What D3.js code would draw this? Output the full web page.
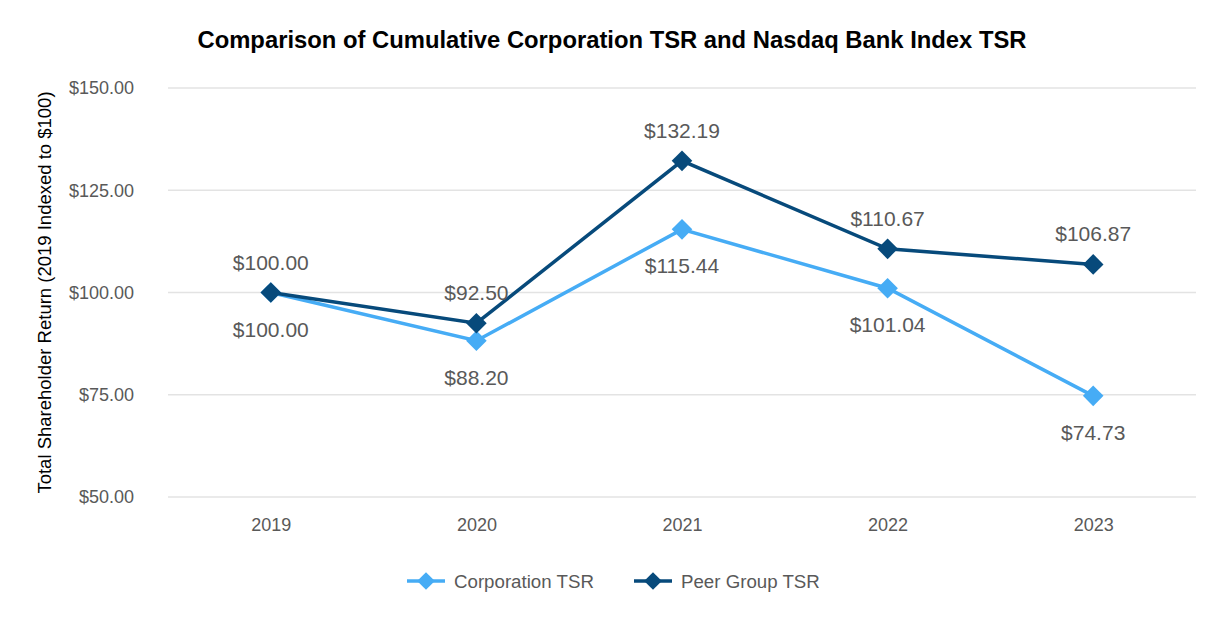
<!DOCTYPE html>
<html>
<head>
<meta charset="utf-8">
<script src="https://cdn.jsdelivr.net/npm/d3@7"></script>
<style>
	body { margin: 0; background: #fff; font-family: 'Liberation Sans', Arial, sans-serif; }
</style>
</head>
<body>
<div id="chart"></div>
<script>
// chart data
const years = ['2019', '2020', '2021', '2022', '2023'];
const corporationTsr = [100.00, 88.20, 115.44, 101.04, 74.73];
const peerGroupTsr = [100.00, 92.50, 132.19, 110.67, 106.87];
const yTicks = [50, 75, 100, 125, 150];

const width = 1226;
const height = 632;
const margin = { top: 88, right: 30, bottom: 135, left: 168 };

const series = [
	{ name: 'Corporation TSR', values: corporationTsr, color: '#46acf5', labelDy: 44 },
	{ name: 'Peer Group TSR', values: peerGroupTsr, color: '#074a7b', labelDy: -23 }
];

const svg = d3.select('#chart')
	.append('svg')
	.attr('width', width)
	.attr('height', height);

const x = d3.scalePoint()
	.domain(years)
	.range([margin.left, width - margin.right])
	.padding(0.5);

const y = d3.scaleLinear()
	.domain([50, 150])
	.range([height - margin.bottom, margin.top]);

// title
svg.append('text')
	.attr('x', 612)
	.attr('y', 48)
	.attr('text-anchor', 'middle')
	.attr('font-size', 23.8)
	.attr('font-weight', 'bold')
	.attr('fill', '#000')
	.text('Comparison of Cumulative Corporation TSR and Nasdaq Bank Index TSR');

// gridlines
svg.append('g')
	.selectAll('line')
	.data(yTicks)
	.enter()
	.append('line')
	.attr('x1', margin.left)
	.attr('x2', width - margin.right)
	.attr('y1', d => y(d))
	.attr('y2', d => y(d))
	.attr('stroke', '#e3e3e3')
	.attr('stroke-width', 1.5);

// y axis
const yAxis = svg.append('g')
	.attr('transform', `translate(${margin.left - 31},0)`)
	.call(d3.axisLeft(y).tickValues(yTicks).tickSize(0).tickFormat(d => '$' + d3.format('.2f')(d)));
yAxis.select('.domain').remove();
yAxis.selectAll('text')
	.attr('font-family', "'Liberation Sans', Arial, sans-serif")
	.attr('font-size', 18)
	.attr('fill', '#595959');

// x axis
const xAxis = svg.append('g')
	.attr('transform', `translate(0,${height - margin.bottom + 18})`)
	.call(d3.axisBottom(x).tickSize(0));
xAxis.select('.domain').remove();
xAxis.selectAll('text')
	.attr('font-family', "'Liberation Sans', Arial, sans-serif")
	.attr('font-size', 18)
	.attr('fill', '#595959');

// y axis title
svg.append('text')
	.attr('transform', `translate(51,${(margin.top + height - margin.bottom) / 2}) rotate(-90)`)
	.attr('text-anchor', 'middle')
	.attr('font-size', 18.5)
	.attr('fill', '#000')
	.text('Total Shareholder Return (2019 Indexed to $100)');

const diamond = d3.symbol().type(d3.symbolDiamond2).size(270);
const line = d3.line()
	.x((d, i) => x(years[i]))
	.y(d => y(d));

// lines, markers and labels
series.forEach(s => {
	const g = svg.append('g');
	g.append('path')
		.datum(s.values)
		.attr('d', line)
		.attr('fill', 'none')
		.attr('stroke', s.color)
		.attr('stroke-width', 3.5);
	g.selectAll('.marker')
		.data(s.values)
		.enter()
		.append('path')
		.attr('class', 'marker')
		.attr('d', diamond)
		.attr('transform', (d, i) => `translate(${x(years[i])},${y(d)})`)
		.attr('fill', s.color);
	g.selectAll('.label')
		.data(s.values)
		.enter()
		.append('text')
		.attr('class', 'label')
		.attr('x', (d, i) => x(years[i]))
		.attr('y', d => y(d) + s.labelDy)
		.attr('text-anchor', 'middle')
		.attr('font-size', 21)
		.attr('fill', '#595959')
		.text(d => '$' + d3.format('.2f')(d));
});

// legend
const legendX = [407, 634];
series.forEach((s, i) => {
	const lg = svg.append('g').attr('transform', `translate(${legendX[i]},581)`);
	lg.append('line')
		.attr('x1', 0)
		.attr('x2', 38)
		.attr('stroke', s.color)
		.attr('stroke-width', 3.5);
	lg.append('path')
		.attr('d', d3.symbol().type(d3.symbolDiamond2).size(200))
		.attr('transform', 'translate(19,0)')
		.attr('fill', s.color);
	lg.append('text')
		.attr('x', 47)
		.attr('y', 6.5)
		.attr('font-size', 18.7)
		.attr('fill', '#595959')
		.text(s.name);
});
</script>
</body>
</html>
